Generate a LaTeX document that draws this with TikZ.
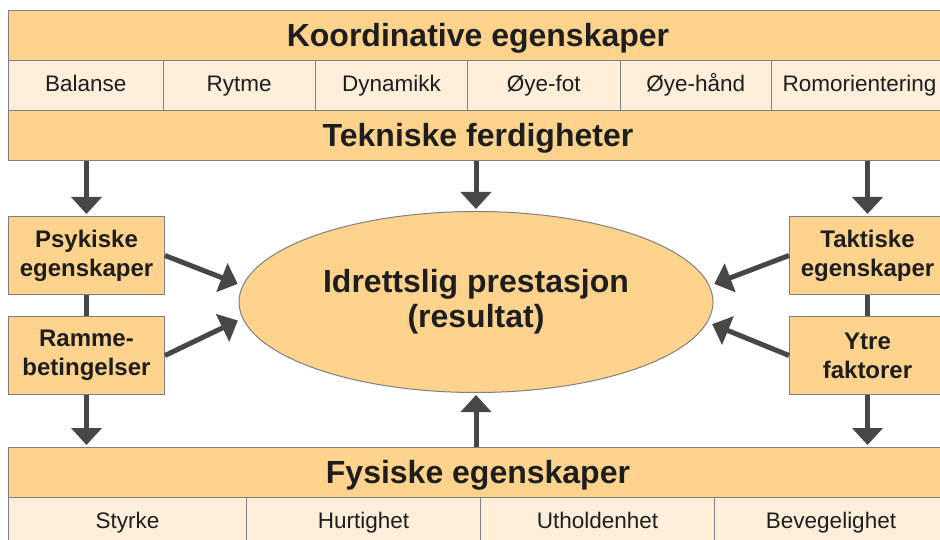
\documentclass[tikz,border=0pt]{standalone}
\usepackage{fontspec}
\setmainfont{Liberation Sans}
\usetikzlibrary{arrows.meta,shapes.geometric}
\definecolor{morkgul}{HTML}{FDD38D}
\definecolor{lysgul}{HTML}{FEEFDA}
\definecolor{kant}{HTML}{7F7F7F}
\definecolor{pilfarge}{HTML}{474747}
\definecolor{tekst}{HTML}{1E1E1E}
\begin{document}
\begin{tikzpicture}[x=1pt, y=-1pt,
  band/.style={draw=kant, line width=1pt, fill=morkgul, minimum width=939pt, minimum height=50pt,
    inner sep=0pt, anchor=north west, text=tekst, text height=23pt, text depth=1pt,
    font=\fontsize{32}{35}\selectfont\bfseries},
  celle/.style={draw=kant, line width=1pt, fill=lysgul, minimum height=50pt,
    inner sep=0pt, anchor=north west, text=tekst, text height=16pt, text depth=4pt,
    font=\fontsize{22.5}{25}\selectfont},
  faktor/.style={draw=kant, line width=1pt, fill=morkgul, minimum width=156pt, minimum height=78pt,
    inner sep=0pt, anchor=north west, align=center, text=tekst, font=\fontsize{24}{29}\selectfont\bfseries},
  pil/.style={draw=pilfarge, line width=5pt, shorten >=2pt, -{Triangle[length=17pt,width=30pt]}}]
\useasboundingbox (0,0) rectangle (940,540);

\node[band] (koord) at (8,10) {Koordinative egenskaper};
\foreach \navn/\x/\w [count=\i] in {Balanse/8/154.5, Rytme/162.5/152.5, Dynamikk/315/152,
    Øye-fot/467/152.5, Øye-hånd/619.5/151.5, Romorientering/771/176}
  \node[celle, minimum width=\w pt] (k\i) at (\x,60) {\navn};
\node[band] (tekn) at (8,110) {Tekniske ferdigheter};

\node[faktor] (psyk) at (8,216) {Psykiske\\egenskaper};
\node[faktor] (ramme) at (8,316) {Ramme-\\betingelser};
\node[faktor] (takt) at (789,216) {Taktiske\\egenskaper};
\node[faktor] (ytre) at (789,316) {Ytre\\faktorer};

\node[ellipse, draw=kant, line width=1pt, fill=morkgul, minimum width=474pt, minimum height=181pt,
  inner sep=0pt, align=center, text=tekst, font=\fontsize{32}{35}\selectfont\bfseries]
  (perf) at (476,302) {Idrettslig prestasjon\\(resultat)};

\node[band] (fys) at (8,447) {Fysiske egenskaper};
\foreach \navn/\x/\w [count=\i] in {Styrke/8/238, Hurtighet/246/234, Utholdenhet/480/234, Bevegelighet/714/233}
  \node[celle, minimum width=\w pt] (f\i) at (\x,497) {\navn};

\draw[pil] (psyk.north |- tekn.south) -- (psyk.north);
\draw[pil] (perf.north |- tekn.south) -- (perf.north);
\draw[pil] (takt.north |- tekn.south) -- (takt.north);
\draw[draw=pilfarge, line width=5pt] (psyk.south) -- (ramme.north);
\draw[draw=pilfarge, line width=5pt] (takt.south) -- (ytre.north);
\draw[pil, shorten >=5pt] (psyk.east) -- (perf.176);
\draw[pil, shorten >=5pt] (ramme.east) -- (perf.184);
\draw[pil, shorten >=5pt] (takt.west) -- (perf.4);
\draw[pil, shorten >=5pt] (ytre.west) -- (perf.355);
\draw[pil] (ramme.south) -- (ramme.south |- fys.north);
\draw[pil] (ytre.south) -- (ytre.south |- fys.north);
\draw[pil] (fys.north -| perf.south) -- (perf.south);
\end{tikzpicture}
\end{document}
